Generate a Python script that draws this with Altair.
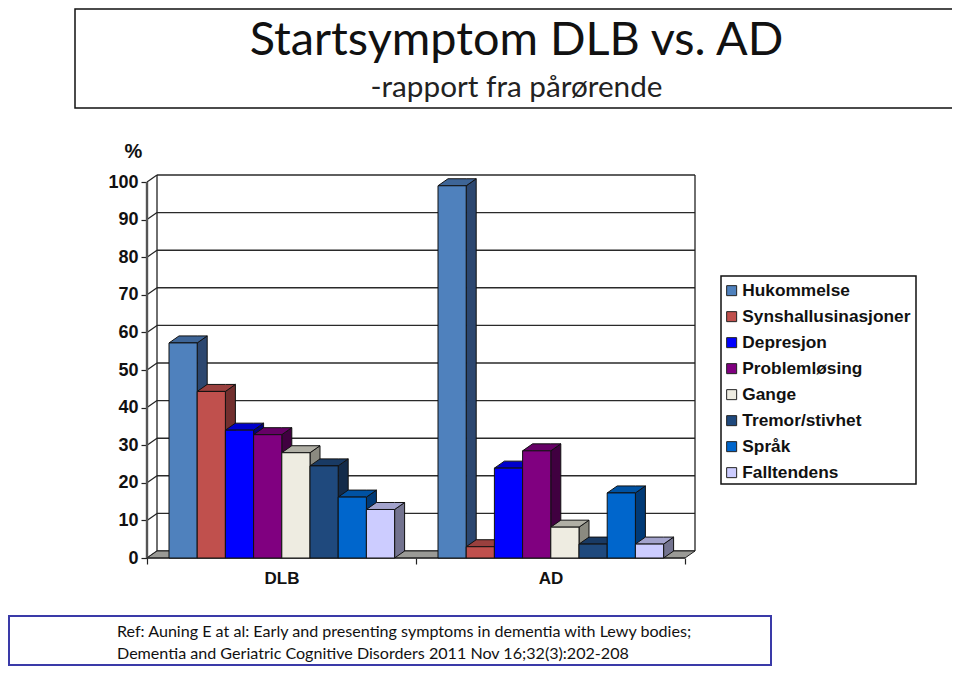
import altair as alt
import pandas as pd

categories = ["DLB", "AD"]
series = ["Hukommelse", "Synshallusinasjoner", "Depresjon", "Problemløsing",
          "Gange", "Tremor/stivhet", "Språk", "Falltendens"]
dlb_values = [57.2, 44.3, 34.0, 32.8, 28.0, 24.5, 16.2, 12.9]
ad_values = [99.0, 3.0, 23.9, 28.5, 8.2, 3.7, 17.3, 3.7]
front_colors = ["#4F81BD", "#C0504D", "#0000FF", "#800080", "#EEECE1", "#1F497D", "#0066CC", "#CCCCFF"]
side_colors = ["#2C4770", "#722F2E", "#00007F", "#400040", "#8B8A80", "#132B4A", "#003A77", "#73738F"]
top_colors = ["#3E6597", "#9A403E", "#0000CC", "#660066", "#B0AFA5", "#193A64", "#0052A3", "#A3A3CC"]
y_ticks = [0, 10, 20, 30, 40, 50, 60, 70, 80, 90, 100]
x_positions = [0, 0.5, 1, 1.5, 2]

# depth of the fake 3D box in data units
DX = 10 / 269
DY = 7 / 3.76
BAR_W = 28.2 / 269
BAR_START = 22 / 269
X_MAX = 2 + DX
Y_MAX = 100 + DY
x_scale = alt.Scale(domain=[0, X_MAX], nice=False, zero=False)
y_scale = alt.Scale(domain=[0, Y_MAX], nice=False, zero=False)

x_axis = alt.Axis(
    values=x_positions, title=None,
    labelExpr="datum.value === 0.5 ? 'DLB' : datum.value === 1.5 ? 'AD' : ''",
    domain=False, grid=False, tickSize=6, tickColor="#222", tickWidth=1.2,
    tickOpacity={"condition": {"test": "datum.value % 1 === 0", "value": 1}, "value": 0},
    labelFont="Liberation Sans", labelFontWeight="bold", labelFontSize=17, labelColor="#111",
    labelPadding=6, labelOverlap=False, labelFlush=False,
)
y_axis = alt.Axis(
    values=y_ticks, title="%", titleAngle=0, titleX=-14, titleY=-24, titleAlign="center",
    titleBaseline="middle", titleFont="Liberation Sans", titleFontWeight="bold",
    titleFontSize=20, titleColor="#111",
    domain=False, grid=False, tickSize=6, tickColor="#222", tickWidth=1.2,
    labelFont="Liberation Sans", labelFontWeight="bold", labelFontSize=18, labelColor="#111",
    labelPadding=3,
)


def top_face(key, x, w, v, color):
    return [
        dict(key=key, x=x, y=v, y1=v, c=color),
        dict(key=key, x=x + DX, y=v, y1=v + DY, c=color),
        dict(key=key, x=x + w, y=v, y1=v + DY, c=color),
        dict(key=key, x=x + w + DX, y=v + DY, y1=v + DY, c=color),
    ]


def side_face(key, x, w, v, color):
    return [
        dict(key=key, x=x + w, y=0, y1=v, c=color),
        dict(key=key, x=x + w + DX, y=DY, y1=v + DY, c=color),
    ]


fronts, faces = [], []
for g, vals in enumerate([dlb_values, ad_values]):
    for i, v in enumerate(vals):
        x = g + BAR_START + i * BAR_W
        fronts.append(dict(series=series[i], cat=categories[g], x=x, x2=x + BAR_W, v=v, order=i))
        faces += side_face(f"{g}-{i}-s", x, BAR_W, v, side_colors[i])
        faces += top_face(f"{g}-{i}-t", x, BAR_W, v, top_colors[i])

X = alt.X("x:Q", scale=x_scale, axis=x_axis)
Y = alt.Y("y:Q", scale=y_scale, axis=y_axis)

# back wall grid
grid = alt.Chart(pd.DataFrame({"v": y_ticks, "x0": [DX] * 11, "x1": [X_MAX] * 11})).transform_calculate(
    yy=f"datum.v + {DY}"
).mark_rule(color="#2a2a2a", strokeWidth=1.4).encode(
    x=alt.X("x0:Q", scale=x_scale, axis=x_axis),
    x2="x1:Q",
    y=alt.Y("yy:Q", scale=y_scale, axis=y_axis),
)

# diagonal side-wall lines
diag_rows = []
for v in y_ticks:
    diag_rows += [dict(key=v, x=0, y=v), dict(key=v, x=DX, y=v + DY)]
diagonals = alt.Chart(pd.DataFrame(diag_rows)).mark_line(color="#222", strokeWidth=1.2).encode(
    x=X, y=Y, detail="key:N"
)

wall_rows = pd.DataFrame({"x": [DX, X_MAX], "y": [DY, DY], "y1": [Y_MAX, Y_MAX]})
walls = alt.Chart(wall_rows).mark_rule(color="#222", strokeWidth=1.3).encode(x=X, y=Y, y2="y1:Q")

axis_v = alt.Chart(pd.DataFrame({"x": [0], "y": [0], "y1": [100]})).mark_rule(
    color="#555", strokeWidth=2.4).encode(x=X, y=Y, y2="y1:Q")

floor = alt.Chart(pd.DataFrame(top_face("floor", 0, 2, 0, "#9a9a96"))).mark_area(
    stroke="#222", strokeWidth=1, strokeJoin="round"
).encode(x=X, y=Y, y2="y1:Q", fill=alt.Fill("c:N", scale=None), detail="key:N")

axis_h = alt.Chart(pd.DataFrame({"x": [0], "x1": [2], "y": [0]})).mark_rule(
    color="#333", strokeWidth=1.6).encode(x=X, x2="x1:Q", y=Y)

back_faces = alt.Chart(pd.DataFrame(faces)).mark_area(
    stroke="#111", strokeWidth=1, strokeJoin="round"
).encode(x=X, y=Y, y2="y1:Q", fill=alt.Fill("c:N", scale=None), detail="key:N")

bars = alt.Chart(pd.DataFrame(fronts)).mark_bar(stroke="#111", strokeWidth=1).encode(
    x=alt.X("x:Q", scale=x_scale, axis=x_axis),
    x2="x2:Q",
    y=alt.Y("v:Q", scale=y_scale, axis=y_axis),
    y2=alt.Y2(datum=0),
    order="order:Q",
    color=alt.Color("series:N", scale=alt.Scale(domain=series, range=front_colors), legend=alt.Legend(
        title=None, orient="none", legendX=576, legendY=107, padding=0, rowPadding=8,
        symbolType="square", symbolSize=100, symbolStrokeColor="#222", symbolStrokeWidth=1,
        labelFont="Liberation Sans", labelFontWeight="bold", labelFontSize=17.3,
        labelColor="#111", labelOffset=2, labelLimit=300,
    )),
)

legend_box = alt.Chart(pd.DataFrame({"a": [0]})).mark_rect(fill="white", stroke="#111", strokeWidth=1.5).encode(
    x=alt.value(721 - 147), x2=alt.value(916 - 147), y=alt.value(276 - 175), y2=alt.value(484 - 175)
)

# citation box and its two lines
ref_lines = ["Ref: Auning E at al: Early and presenting symptoms in dementia with Lewy bodies;",
             "Dementia and Geriatric Cognitive Disorders 2011 Nov 16;32(3):202-208"]
ref_baselines = [637, 659]
ref_box = alt.Chart(pd.DataFrame({"a": [0]})).mark_rect(fill="white", stroke="#3a3aa8", strokeWidth=2).encode(
    x=alt.value(9 - 147), x2=alt.value(771 - 147), y=alt.value(616 - 175), y2=alt.value(665 - 175)
)
ref_text = [
    alt.Chart(pd.DataFrame({"t": [line]})).mark_text(
        font="Lato", fontSize=16.1, align="left", baseline="alphabetic", color="#111"
    ).encode(text="t:N", x=alt.value(117 - 147), y=alt.value(b - 175))
    for line, b in zip(ref_lines, ref_baselines)
]

# heading box and its two lines
title_lines = ["Startsymptom DLB vs. AD", "-rapport fra pårørende"]
title_box = alt.Chart(pd.DataFrame({"a": [0]})).mark_rect(fill="white", stroke="#111", strokeWidth=1.5).encode(
    x=alt.value(75 - 147), x2=alt.value(990 - 147), y=alt.value(9 - 175), y2=alt.value(108 - 175)
)
title_text = [
    alt.Chart(pd.DataFrame({"t": [line]})).mark_text(
        font="Lato", fontSize=size, align="center", baseline="alphabetic", color=col
    ).encode(text="t:N", x=alt.value(516.5 - 147), y=alt.value(b - 175))
    for line, size, b, col in zip(title_lines, [46.8, 29.7], [55, 97], ["#111", "#222"])
]

chart = alt.layer(
    title_box, *title_text, ref_box, *ref_text, legend_box, grid, diagonals, walls, axis_v, floor, axis_h,
    back_faces, bars
).properties(
    width=548, height=383,
    autosize=alt.AutoSizeParams(type="none"),
    padding={"left": 139, "top": 167, "right": 257, "bottom": 108},
    background="white",
).configure_view(stroke=None)

chart.save("out.html", embed_options={"renderer": "svg", "actions": False})
